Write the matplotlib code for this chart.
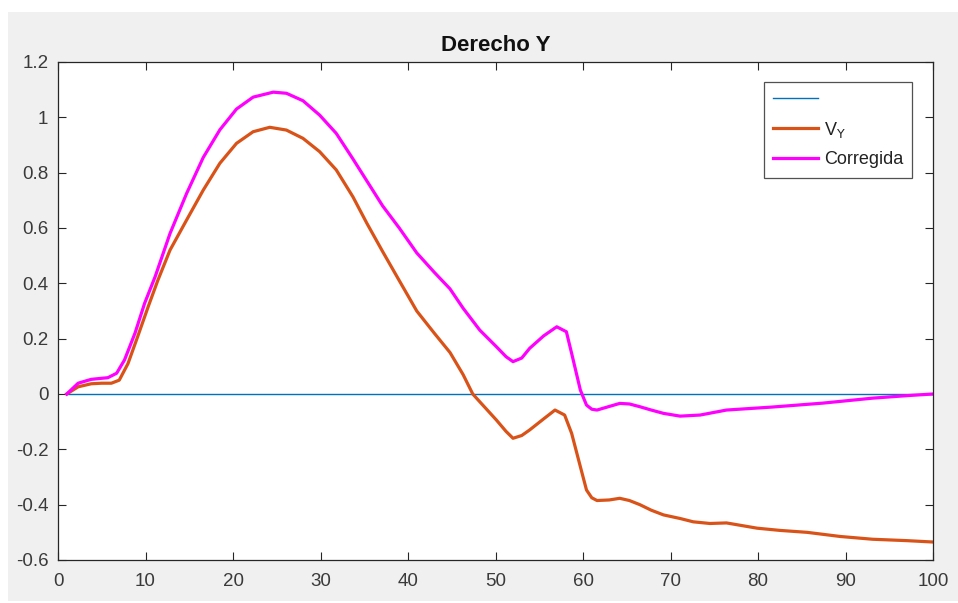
import matplotlib
matplotlib.use("Agg")
import matplotlib.pyplot as plt
from matplotlib.patches import Rectangle

plt.rcParams['font.family'] = ['Liberation Sans', 'DejaVu Sans']

# Reference (blue) line
ref_x = [1, 100]
ref_y = [0.0, 0.0]

# V_Y (orange)
vy_x = [1, 2.3, 3.8, 5.0, 6.1, 7.0, 8.0, 9.1, 10.3, 11.4, 12.8, 14.7, 16.6, 18.5, 20.4,
        22.3, 24.2, 26.1, 28.0, 29.9, 31.8, 33.7, 35.3, 37.1, 39.0, 41.0, 43.0,
        44.8, 46.3, 47.4, 48.2, 50.1, 51.2, 52.0, 53.0, 53.9, 55.5, 56.8, 57.9, 58.7,
        59.7, 60.4, 61.0, 61.6, 63.0, 64.2, 65.3, 66.5, 67.8, 69.2, 71.1, 72.6, 74.5,
        76.4, 79.9, 82.5, 85.6, 89.4, 93.1, 97.0, 100]
vy_y = [0.0, 0.026, 0.037, 0.039, 0.039, 0.05, 0.11, 0.207, 0.315, 0.41, 0.52, 0.629,
        0.737, 0.834, 0.906, 0.948, 0.964, 0.954, 0.924, 0.876, 0.81, 0.713, 0.617, 0.515,
        0.41, 0.30, 0.22, 0.15, 0.07, 0.0, -0.028, -0.094, -0.135, -0.16, -0.15, -0.13,
        -0.09, -0.058, -0.076, -0.142, -0.263, -0.347, -0.375, -0.385, -0.383, -0.377,
        -0.385, -0.40, -0.42, -0.437, -0.45, -0.462, -0.468, -0.466, -0.485, -0.493,
        -0.50, -0.515, -0.525, -0.53, -0.535]

# Corregida (magenta)
co_x = [1, 2.3, 3.8, 5.7, 6.7, 7.6, 8.8, 9.9, 11.1, 12.8, 14.7, 16.6, 18.5, 20.4, 22.3,
        24.6, 26.1, 28.0, 29.9, 31.8, 33.7, 35.5, 37.1, 39.0, 41.0, 43.0,
        44.8, 46.3, 48.2, 50.1, 51.2, 52.0, 53.0, 53.9, 55.5, 57.0, 58.1, 58.7, 59.7,
        60.4, 61.0, 61.6, 63.0, 64.2, 65.3, 66.5, 67.8, 69.2, 71.1, 73.4, 76.4, 81.7,
        87.4, 93.1, 97.0, 100]
co_y = [0.0, 0.039, 0.053, 0.059, 0.075, 0.123, 0.22, 0.328, 0.424, 0.58, 0.725, 0.855,
        0.955, 1.03, 1.073, 1.091, 1.087, 1.06, 1.008, 0.942, 0.85, 0.76, 0.68,
        0.60, 0.51, 0.44, 0.38, 0.31, 0.231, 0.171, 0.135, 0.117, 0.13, 0.165, 0.21,
        0.243, 0.225, 0.147, 0.014, -0.04, -0.055, -0.058, -0.045, -0.034, -0.036,
        -0.046, -0.058, -0.07, -0.08, -0.076, -0.058, -0.047, -0.033, -0.015, -0.006, 0.0]

legend_labels = ['', r'V$_{\mathrm{Y}}$', 'Corregida']
title_text = 'Derecho Y'
xticks = [0, 10, 20, 30, 40, 50, 60, 70, 80, 90, 100]
yticks = [-0.6, -0.4, -0.2, 0, 0.2, 0.4, 0.6, 0.8, 1, 1.2]
ytick_labels = ['-0.6', '-0.4', '-0.2', '0', '0.2', '0.4', '0.6', '0.8', '1', '1.2']

W, H = 958, 603
fig = plt.figure(figsize=(W / 100, H / 100), dpi=100, facecolor='white')
fig.patches.append(Rectangle((8 / W, 2 / H), 1 - 8 / W, (H - 14) / H,
                             transform=fig.transFigure, facecolor='#f0f0f0',
                             edgecolor='none', zorder=-10))

ax = fig.add_axes([58 / W, (H - 560) / H, (933 - 58) / W, (560 - 62) / H])
ax.set_facecolor('white')

dark = '#262626'
h0, = ax.plot(ref_x, ref_y, color='#0072BD', lw=1.0)
h1, = ax.plot(vy_x, vy_y, color='#D95319', lw=2.3, solid_joinstyle='round')
h2, = ax.plot(co_x, co_y, color='#FF00FF', lw=2.3, solid_joinstyle='round')

ax.set_xlim(0, 100)
ax.set_ylim(-0.6, 1.2)
ax.set_xticks(xticks)
ax.set_xticklabels([str(t) for t in xticks])
ax.set_yticks(yticks)
ax.set_yticklabels(ytick_labels)
ax.tick_params(direction='in', length=6, width=0.8, colors=dark, labelsize=13.5,
               labelcolor='#3a3a3a', top=True, right=True)
ax.tick_params(axis='x', pad=9)
ax.tick_params(axis='y', pad=7)
for s in ax.spines.values():
    s.set_color(dark)
    s.set_linewidth(0.9)

ax.set_title(title_text, fontsize=16, fontweight='bold', color='#111111', pad=8)

leg = ax.legend([h0, h1, h2], legend_labels, loc='upper right',
                bbox_to_anchor=(912 / W, (H - 82) / H),
                bbox_transform=fig.transFigure, fontsize=13, frameon=True,
                fancybox=False, edgecolor=dark, handlelength=2.5, borderpad=0.5,
                labelspacing=0.65, handletextpad=0.3, borderaxespad=0)
leg.get_frame().set_linewidth(0.9)
for t in leg.get_texts():
    t.set_color('#222222')

fig.savefig('out.png', dpi=100, facecolor=fig.get_facecolor())
